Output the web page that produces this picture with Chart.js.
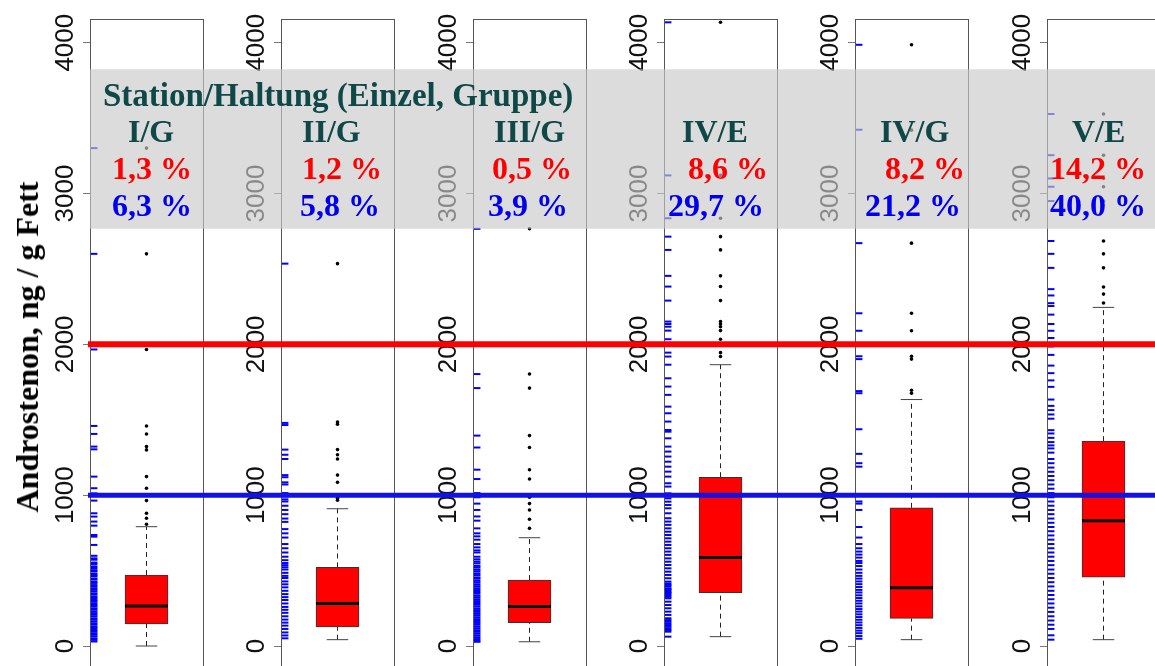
<!DOCTYPE html>
<html>
<head>
<meta charset="utf-8">
<script src="https://cdn.jsdelivr.net/npm/chart.js@4.4.1/dist/chart.umd.min.js"></script>
<style>
  html, body { margin: 0; padding: 0; background: #fff; }
  #wrap { position: relative; width: 1155px; height: 666px; overflow: hidden; background: #fff; }
  canvas { position: absolute; top: 0; }
  .txt { position: absolute; font-family: 'Liberation Serif', 'Times New Roman', serif; font-weight: bold;
         font-size: 32px; line-height: 32px; white-space: nowrap; }
  .head { font-size: 33px; }
  .grp { color: #0f4848; }
  .red { color: #ff0000; }
  .blue { color: #0000ee; }
  #ytitle { left: 27px; top: 347px; color: #000; transform: translate(-50%, -50%) rotate(-90deg); }
</style>
</head>
<body>
<div id="wrap"></div>
<script>
// ── Data ─────────────────────────────────────────────────────────────────────
const groups    = ['I/G', 'II/G', 'III/G', 'IV/E', 'IV/G', 'V/E'];
const shareRed  = ['1,3 %', '1,2 %', '0,5 %', '8,6 %', '8,2 %', '14,2 %'];   // > 2000 ng/g
const shareBlue = ['6,3 %', '5,8 %', '3,9 %', '29,7 %', '21,2 %', '40,0 %']; // > 1000 ng/g

const lowWhisker  = [0, 42, 28, 62, 42, 42];
const q1          = [146, 127, 155, 354, 183, 457];
const median      = [265, 282, 262, 586, 386, 831];
const q3          = [471, 521, 437, 1119, 916, 1358];
const highWhisker = [791, 910, 718, 1865, 1634, 2245];

const outliers = [
  [807, 847, 880, 964, 1046, 1123, 1300, 1322, 1406, 1459, 1966, 2600, 3301],
  [966, 980, 1085, 1133, 1240, 1268, 1302, 1471, 1485, 2535],
  [780, 840, 902, 944, 986, 1107, 1169, 1316, 1395, 1710, 1803, 2766],
  [1919, 1945, 2034, 2091, 2117, 2135, 2151, 2290, 2383, 2454, 2626, 2714, 2836, 3120, 4135],
  [1676, 1696, 1902, 1921, 2090, 2206, 2671, 3420, 3986],
  [2274, 2333, 2380, 2507, 2600, 2685, 2950, 3045, 3100, 3254, 3527],
];

// rug marks (blue dashes at the left edge of every panel)
const rug = [
  [3301, 2600, 1966, 1459, 1406, 1322, 1304, 1123, 1046, 1012, 964, 880, 858, 825, 798, 736, 725, 670,
   598, 581, 572, 553, 544, 528, 517, 503, 495, 480, 471, 462, 447, 440, 425, 418, 404, 395, 383, 372,
   361, 348, 340, 326, 318, 305, 297, 284, 272, 263, 250, 241, 229, 218, 207, 196, 183, 174, 162, 150,
   141, 128, 119, 106, 97, 85, 74, 63, 50, 41, 30],
  [2535, 1479, 1465, 1302, 1268, 1240, 1133, 1119, 1085, 1071, 1014, 992, 972, 958, 930, 902, 874, 845,
   823, 775, 747, 719, 676, 648, 620, 592, 569, 550, 536, 522, 507, 485, 465, 451, 428, 409, 389, 366,
   344, 324, 305, 282, 259, 240, 220, 197, 175, 155, 135, 113, 90, 70, 51],
  [2766, 1803, 1710, 1395, 1316, 1169, 1107, 1014, 986, 944, 902, 859, 831, 780, 747, 727, 705, 676,
   654, 634, 620, 592, 575, 560, 548, 531, 520, 506, 495, 481, 470, 455, 446, 432, 420, 407, 396, 383,
   371, 358, 347, 333, 322, 310, 298, 285, 274, 262, 249, 238, 226, 213, 202, 190, 178, 166, 153, 142,
   130, 118, 105, 94, 82, 70, 58, 46, 35, 28],
  [4135, 3120, 2836, 2714, 2626, 2454, 2383, 2290, 2151, 2135, 2117, 2091, 2034, 1945, 1919, 1865, 1775,
   1720, 1665, 1587, 1543, 1488, 1432, 1421, 1377, 1322, 1289, 1256, 1222, 1189, 1156, 1123, 1079, 1057,
   1012, 979, 957, 935, 913, 880, 847, 825, 803, 780, 758, 736, 714, 692, 670, 648, 626, 604, 581, 559,
   537, 515, 493, 471, 449, 427, 414, 405, 396, 383, 377, 370, 360, 354, 348, 338, 326, 316, 294, 272,
   250, 228, 206, 184, 172, 161, 150, 139, 128, 117, 106, 95, 62],
  [3986, 3423, 2671, 2206, 2090, 1921, 1902, 1690, 1676, 1437, 1274, 1212, 1189, 958, 944, 902, 789,
   719, 676, 648, 626, 606, 586, 564, 550, 530, 507, 485, 465, 447, 428, 410, 391, 372, 355, 336, 318,
   300, 282, 263, 245, 228, 210, 192, 174, 156, 138, 120, 102, 85, 66, 48],
  [3527, 3254, 3100, 3045, 2950, 2685, 2600, 2507, 2366, 2324, 2273, 2254, 2197, 2135, 2090, 2042, 1986,
   1930, 1859, 1809, 1761, 1718, 1634, 1592, 1564, 1535, 1507, 1431, 1409, 1380, 1352, 1330, 1310, 1282,
   1240, 1212, 1183, 1155, 1127, 1099, 1071, 1043, 1014, 986, 958, 930, 902, 874, 845, 817, 789, 761,
   733, 705, 676, 648, 620, 592, 564, 536, 507, 479, 451, 423, 395, 366, 338, 310, 282, 254, 226, 197,
   169, 141, 113, 71, 42],
];

const yTicks    = [0, 1000, 2000, 3000, 4000];
const limitRed  = 2000;
const limitBlue = 1000;
const bandLow   = 2767;   // grey label band
const bandHigh  = 3824;

// ── Layout (pixels) ──────────────────────────────────────────────────────────
const Y_MIN = -358, Y_MAX = 4157;          // value range of the plot area (19px .. 700px)
const CANVAS_H = 700, TOP = 19;
const PANEL_LEFT = [90, 281, 473, 664, 855, 1047];
const PANEL_W = 113, BOX_W = 43;
const RUG_X = 0.033;

const labelX = [128, 302, 494, 682, 880, 1072];
const redX   = [112, 302, 492, 688, 885, 1050];
const blueX  = [112, 300, 488, 668, 865, 1050];
const rowBase = [106, 142, 179, 216];

const wrap = document.getElementById('wrap');

const frame = {
  id: 'frame',
  afterDatasetsDraw(chart) {
    const { ctx, chartArea: a } = chart;
    ctx.save();
    ctx.strokeStyle = '#555';
    ctx.lineWidth = 1;
    ctx.strokeRect(a.left + 0.5, a.top + 0.5, a.width, a.height);
    ctx.restore();
  },
};

function makeCanvas(left, width) {
  const c = document.createElement('canvas');
  c.width = width; c.height = CANVAS_H;
  c.style.left = left + 'px';
  c.style.width = width + 'px'; c.style.height = CANVAS_H + 'px';
  wrap.appendChild(c);
  return c;
}

// ── One chart per panel ──────────────────────────────────────────────────────
groups.forEach((g, i) => {
  const axisW = i === 0 ? 90 : 60;
  const canvas = makeCanvas(PANEL_LEFT[i] - axisW, axisW + PANEL_W + 2);

  new Chart(canvas, {
    type: 'bar',
    data: {
      datasets: [
        { type: 'scatter', order: 0, data: [{ x: 0.5, y: median[i] }],
          pointStyle: 'line', pointRadius: BOX_W / 2, pointBorderWidth: 3, pointBorderColor: '#000' },
        { type: 'scatter', order: 0, data: rug[i].map(v => ({ x: RUG_X, y: v })),
          pointStyle: 'line', pointRadius: 3.7, pointBorderWidth: 2, pointBorderColor: '#0000ff' },
        { type: 'scatter', order: 1, data: [{ x: 0.5, y: lowWhisker[i] }, { x: 0.5, y: highWhisker[i] }],
          pointStyle: 'line', pointRadius: BOX_W / 4, pointBorderWidth: 1, pointBorderColor: '#444' },
        { type: 'scatter', order: 1, data: outliers[i].map(v => ({ x: 0.5, y: v })),
          pointStyle: 'circle', pointRadius: 1.8, pointBorderWidth: 0, pointBackgroundColor: '#000' },
        { type: 'bar', order: 2, data: [{ x: 0.5, y: [q1[i], q3[i]] }],
          barThickness: BOX_W, backgroundColor: '#ff0000', borderColor: '#333', borderWidth: 1,
          borderSkipped: false },
        { type: 'line', order: 3, data: [{ x: 0.5, y: q3[i] }, { x: 0.5, y: highWhisker[i] }],
          borderColor: '#222', borderWidth: 1, borderDash: [5, 4], pointRadius: 0 },
        { type: 'line', order: 3, data: [{ x: 0.5, y: lowWhisker[i] }, { x: 0.5, y: q1[i] }],
          borderColor: '#222', borderWidth: 1, borderDash: [5, 4], pointRadius: 0 },
      ],
    },
    options: {
      responsive: false,
      animation: false,
      events: [],
      layout: { autoPadding: false, padding: { top: TOP, right: 2, left: 0, bottom: 0 } },
      plugins: { legend: { display: false }, tooltip: { enabled: false } },
      scales: {
        x: { type: 'linear', min: 0, max: 1, offset: false, display: false },
        y: {
          type: 'linear', min: Y_MIN, max: Y_MAX,
          afterBuildTicks: s => { s.ticks = yTicks.map(v => ({ value: v })); },
          afterFit: s => { s.width = axisW; s.paddingTop = 0; s.paddingBottom = 0; },
          border: { display: false },
          grid: { drawOnChartArea: false, drawTicks: true, tickLength: 7, color: '#777' },
          ticks: {
            autoSkip: false, minRotation: 90, maxRotation: 90, crossAlign: 'center', padding: -12,
            color: '#111', font: { family: "'Liberation Sans', Arial, sans-serif", size: 26 },
            callback: v => String(v),
          },
        },
      },
    },
    plugins: [frame],
  });
});

// ── Overlay: grey band and the two limit lines across all panels ─────────────
const overlay = makeCanvas(0, 1155);
new Chart(overlay, {
  type: 'line',
  data: {
    datasets: [
      { order: 0, data: [{ x: 88, y: limitRed }, { x: 1155, y: limitRed }],
        borderColor: '#ff0000', borderWidth: 6, pointRadius: 0 },
      { order: 1, data: [{ x: 88, y: limitBlue }, { x: 1155, y: limitBlue }],
        borderColor: '#1212e6', borderWidth: 5, pointRadius: 0 },
      { order: 2, data: [{ x: 90, y: bandHigh }, { x: 1155, y: bandHigh }],
        borderWidth: 0, pointRadius: 0, fill: { value: bandLow },
        backgroundColor: 'rgba(201,201,201,0.65)' },
    ],
  },
  options: {
    responsive: false,
    animation: false,
    events: [],
    layout: { autoPadding: false, padding: { top: TOP, right: 0, left: 0, bottom: 0 } },
    plugins: { legend: { display: false }, tooltip: { enabled: false } },
    scales: {
      x: { type: 'linear', min: 0, max: 1155, display: false },
      y: { type: 'linear', min: Y_MIN, max: Y_MAX, display: false },
    },
  },
});

// ── Text on top ──────────────────────────────────────────────────────────────
function addText(cls, text, left, baseline) {
  const d = document.createElement('div');
  d.className = 'txt ' + cls;
  d.textContent = text;
  d.style.left = left + 'px';
  d.style.top = (baseline - 27) + 'px';
  wrap.appendChild(d);
}

addText('grp head', 'Station/Haltung (Einzel, Gruppe)', 103, rowBase[0]);
groups.forEach((g, i) => {
  addText('grp', g, labelX[i], rowBase[1]);
  addText('red', shareRed[i], redX[i], rowBase[2]);
  addText('blue', shareBlue[i], blueX[i], rowBase[3]);
});

const yt = document.createElement('div');
yt.id = 'ytitle';
yt.className = 'txt';
yt.textContent = 'Androstenon, ng / g Fett';
wrap.appendChild(yt);
</script>
</body>
</html>
